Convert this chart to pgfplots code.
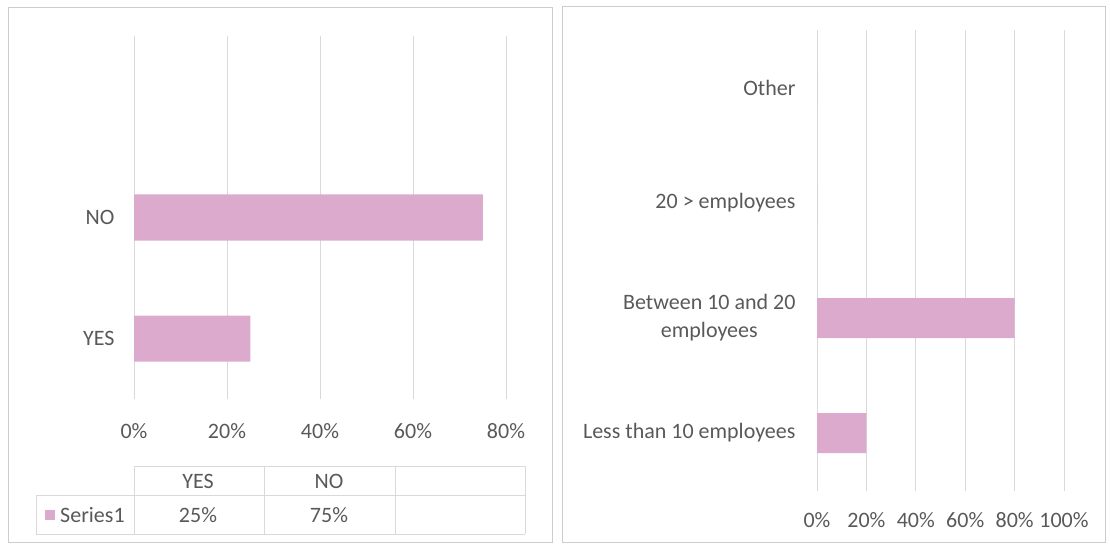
\documentclass[border=0pt]{standalone}
\usepackage{pgfplots}
\pgfplotsset{compat=1.18}
\usepackage{fontspec}
\setmainfont{Carlito}
\definecolor{barpink}{RGB}{220,170,205}
\definecolor{gridgray}{RGB}{217,217,217}
\definecolor{txtgray}{RGB}{89,89,89}
\definecolor{boxgray}{RGB}{205,205,205}
\begin{document}
\begin{tikzpicture}[x=1pt,y=1pt]
\path[use as bounding box] (0,0) rectangle (1110,544);
\draw[boxgray, line width=1pt] (8,2) rectangle (552,536);
\draw[boxgray, line width=1pt] (562,2) rectangle (1105,537);
\pgfplotsset{
  mystyle/.style={
    scale only axis, xbar, xmajorgrids,
    grid style={gridgray, line width=0.8pt},
    axis line style={draw=none}, major tick length=0pt,
    ticklabel style={font=\fontsize{22}{28}\selectfont, text=txtgray},
    /pgf/number format/assume math mode=true,
  }
}
% left chart
\begin{axis}[mystyle, at={(134pt,145pt)}, anchor=south west,
  width=372pt, height=363pt,
  xmin=0, xmax=80, ymin=-0.5, ymax=2.5,
  xtick={0,20,40,60,80}, xticklabels={0\%,20\%,40\%,60\%,80\%},
  ytick={0,1}, yticklabels={YES,NO},
  bar width=46pt,
  xticklabel style={yshift=-21pt},
  yticklabel style={xshift=-16pt},
]
\addplot[fill=barpink, draw=none] coordinates {(25,0) (75,1)};
\end{axis}
% data table
\begin{scope}[gridgray, line width=0.8pt]
\draw (134,78) -- (525,78);
\draw (36,49) -- (525,49);
\draw (36,10) -- (525,10);
\draw (36,10) -- (36,49);
\foreach \xx in {134,264,395,525} \draw (\xx,10) -- (\xx,78);
\end{scope}
\begin{scope}[font=\fontsize{22}{28}\selectfont, text=txtgray]
\node at (198,63) {YES};
\node at (329,63) {NO};
\node at (198,29) {25\%};
\node at (329,29) {75\%};
\node[anchor=west, inner sep=0pt] at (60,29) {Series1};
\end{scope}
\fill[barpink] (45,24) rectangle (55,34);
% right chart
\begin{axis}[mystyle, at={(817pt,53.5pt)}, anchor=south west,
  width=247pt, height=460pt,
  xmin=0, xmax=100, ymin=-0.5, ymax=3.5,
  xtick={0,20,40,60,80,100}, xticklabels={0\%,20\%,40\%,60\%,80\%,100\%},
  ytick={0,1,2,3},
  yticklabels={Less than 10 employees,{Between 10 and 20\\employees},20 > employees,Other},
  yticklabel style={align=center, xshift=-18pt},
  bar width=40pt,
  xticklabel style={yshift=-18pt},
]
\addplot[fill=barpink, draw=none] coordinates {(20,0) (80,1) (0,2) (0,3)};
\end{axis}
\end{tikzpicture}
\end{document}
